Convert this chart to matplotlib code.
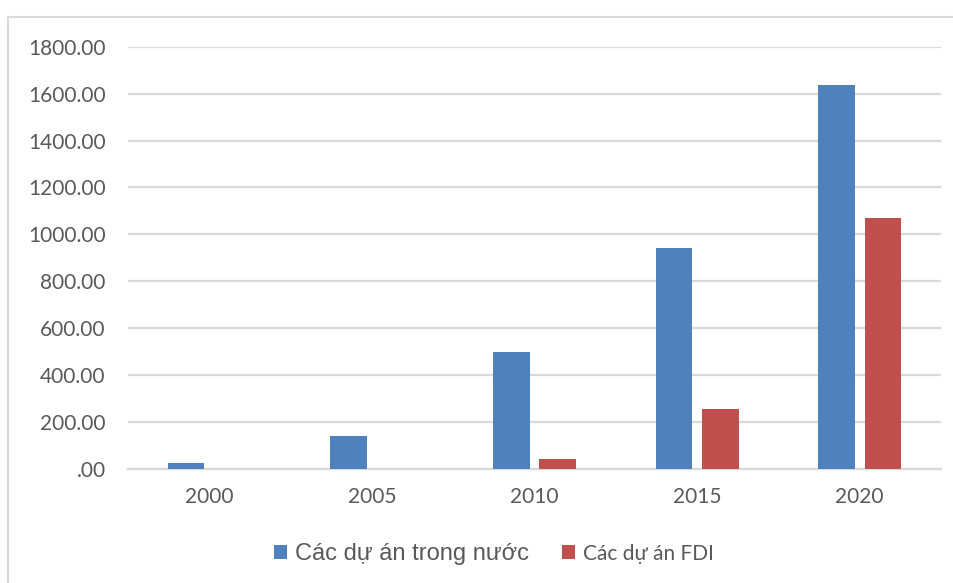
import matplotlib
matplotlib.use("Agg")
import matplotlib.pyplot as plt
import numpy as np
from matplotlib.lines import Line2D

years = ["2000", "2005", "2010", "2015", "2020"]
domestic = [25, 141, 500, 942, 1635]
fdi = [0, 0, 44, 256, 1068]
series_names = ["Các dự án trong nước", "Các dự án FDI"]
yticks = [0, 200, 400, 600, 800, 1000, 1200, 1400, 1600, 1800]
ytick_labels = [".00", "200.00", "400.00", "600.00", "800.00", "1000.00",
                "1200.00", "1400.00", "1600.00", "1800.00"]

blue = "#4F81BD"
red = "#C0504D"
text_color = "#595959"
grid_color = "#D9D9D9"

W, H = 954, 583
fig = plt.figure(figsize=(W / 100, H / 100), dpi=100)
fig.patch.set_facecolor("white")

left, right = 128 / W, 941 / W
bottom, top = 1 - 469 / H, 1 - 46.7 / H
ax = fig.add_axes([left, bottom, right - left, top - bottom])

x = np.arange(len(years))
bw = 0.225
off = 0.143
ax.bar(x - off, domestic, width=bw, color=blue, label=series_names[0], zorder=3)
ax.bar(x + off, fdi, width=bw, color=red, label=series_names[1], zorder=3)

ax.set_xlim(-0.5, len(years) - 0.5)
ax.set_ylim(0, 1800)
ax.set_yticks(yticks)
ax.set_yticklabels(ytick_labels)
ax.set_xticks(x)
ax.set_xticklabels(years)
ax.yaxis.grid(True, color=grid_color, linewidth=1.6, zorder=0)
ax.set_axisbelow(True)
for s in ["top", "right", "left"]:
    ax.spines[s].set_visible(False)
ax.spines["bottom"].set_color(grid_color)
ax.spines["bottom"].set_linewidth(1.6)
ax.tick_params(axis="both", length=0, colors=text_color)
ax.tick_params(axis="y", pad=16)
ax.tick_params(axis="x", pad=13)
for lab in ax.get_yticklabels() + ax.get_xticklabels():
    lab.set_fontfamily("Lato")
    lab.set_fontsize(15)
    lab.set_color(text_color)

leg = ax.legend(loc="center", bbox_to_anchor=(494 / W, 1 - 554 / H),
                bbox_transform=fig.transFigure, ncol=2, frameon=False,
                prop={"family": "Liberation Sans", "size": 17},
                handlelength=0.55, handleheight=0.55, handletextpad=0.35,
                columnspacing=1.4, borderpad=0)
texts = leg.get_texts()
for t in texts:
    t.set_color(text_color)
texts[1].set_fontfamily("Lato")
texts[1].set_fontsize(15)

# outer chart frame (top and left edges visible)
fig.add_artist(Line2D([8 / W, 1.0], [1 - 17 / H, 1 - 17 / H],
                      transform=fig.transFigure, color=grid_color, linewidth=1.5))
fig.add_artist(Line2D([8 / W, 8 / W], [0, 1 - 17 / H],
                      transform=fig.transFigure, color=grid_color, linewidth=1.5))

fig.savefig("out.png", dpi=100, facecolor="white")
